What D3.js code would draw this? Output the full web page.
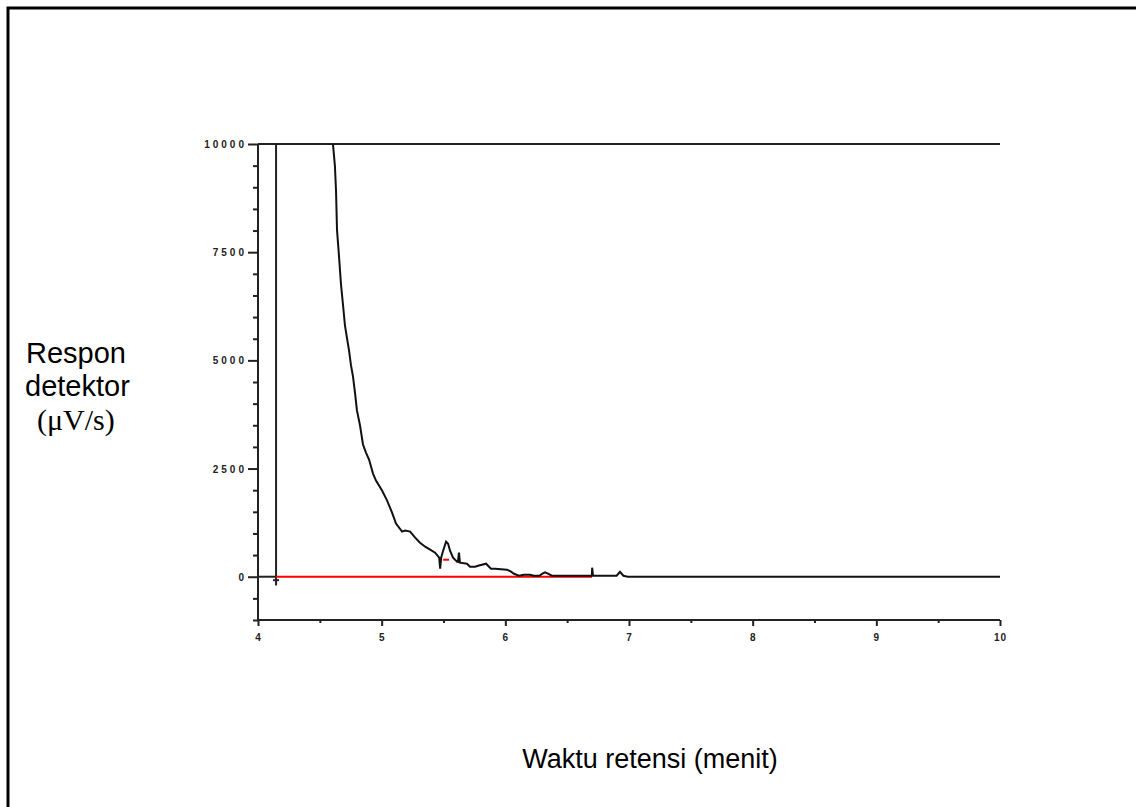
<!DOCTYPE html>
<html><head><meta charset="utf-8">
<script src="https://cdn.jsdelivr.net/npm/d3@7"></script>
<style>body{margin:0;background:#fff}svg{display:block}</style>
</head><body>
<svg id="c" width="1136" height="807"></svg>
<script>
// Data
const time = [4.606,4.614,4.622,4.631,4.639,4.655,4.671,4.687,4.703,4.720,4.736,4.752,4.768,4.784,4.800,4.825,4.849,4.873,4.898,4.930,4.954,5.003,5.044,5.084,5.116,5.165,5.190,5.230,5.271,5.310,5.352,5.392,5.432,5.465,5.473,5.481,5.497,5.521,5.537,5.553,5.577,5.601,5.617,5.625,5.633,5.690,5.714,5.755,5.779,5.844,5.884,5.917,6.013,6.046,6.070,6.110,6.150,6.200,6.230,6.275,6.300,6.321,6.345,6.377,6.700,6.702,6.709,6.900,6.927,6.955,6.990,10.0];
const response = [10000,9750,9490,8912,8009,7407,6759,6296,5810,5509,5231,4884,4630,4259,3843,3495,3056,2870,2708,2384,2222,1991,1759,1481,1227,1042,1065,1042,903,787,694,625,555,440,185,440,602,810,764,602,440,370,347,555,324,301,231,231,255,301,185,185,162,116,69,23,46,46,23,23,70,100,70,23,23,208,23,23,115,23,0,0];
const baselineRed = [[4.146,0],[6.701,0]];
const peakBase1 = [[5.497,393],[5.545,393]];
const peakBase2 = [[5.601,347],[5.633,347]];
const injectionTime = 4.146;
const injectionRange = [10000,-200];
const xTicksMajor = [4,5,6,7,8,9,10];
const yTicksMajor = [0,2500,5000,7500,10000];

const svg = d3.select("#c");
const x = d3.scaleLinear().domain([4,10]).range([258,1000]);
const y = d3.scaleLinear().domain([-1000,10000]).range([620,144]);

// outer frame
svg.append("path").attr("d","M8,807 L8,8 L1136,8").attr("fill","none").attr("stroke","#000").attr("stroke-width",3);

const axColor = "#222";
// y axis
const yMinor = d3.range(-1000,10001,500);
const yAx = svg.append("g").attr("transform","translate(258,0)")
  .call(d3.axisLeft(y).tickValues(yMinor).tickSize(5).tickFormat(""));
yAx.selectAll(".tick line").filter(d=>yTicksMajor.includes(d)).attr("x2",-10);
yAx.selectAll("line,path").attr("stroke",axColor).attr("stroke-width",2);
yAx.select(".domain").attr("d","M0,620V144");
yAx.selectAll(".tick").filter(d=>yTicksMajor.includes(d)).append("text")
  .attr("x",-11).attr("dy","0.36em").attr("text-anchor","end")
  .attr("fill","#222").style("font","bold 10px 'Liberation Sans',Arial").attr("letter-spacing","3px")
  .text(d=>d);

// x axis
const xMinor = d3.range(4,10.01,0.5);
const xAx = svg.append("g").attr("transform","translate(0,620)")
  .call(d3.axisBottom(x).tickValues(xMinor).tickSize(3).tickFormat(""));
xAx.selectAll(".tick line").filter(d=>xTicksMajor.includes(d)).attr("y2",6);
xAx.selectAll("line,path").attr("stroke",axColor).attr("stroke-width",2);
xAx.select(".domain").attr("d","M258,0H1000");
xAx.selectAll(".tick").filter(d=>xTicksMajor.includes(d)).append("text")
  .attr("y",21).attr("text-anchor","middle")
  .attr("fill","#222").style("font","bold 10px 'Liberation Sans',Arial").attr("letter-spacing","1px")
  .text(d=>d);

// top line at 10000
svg.append("line").attr("x1",x(4)).attr("x2",x(10)).attr("y1",y(10000)).attr("y2",y(10000))
  .attr("stroke",axColor).attr("stroke-width",2);

// injection marker
svg.append("line").attr("x1",x(injectionTime)).attr("x2",x(injectionTime))
  .attr("y1",y(injectionRange[0])).attr("y2",y(injectionRange[1])).attr("stroke",axColor).attr("stroke-width",2);
svg.append("line").attr("x1",x(injectionTime)-3).attr("x2",x(injectionTime)+3)
  .attr("y1",y(-80)).attr("y2",y(-80)).attr("stroke",axColor).attr("stroke-width",2);
// pre-injection baseline
svg.append("line").attr("x1",x(4)).attr("x2",x(injectionTime)).attr("y1",y(0)).attr("y2",y(0))
  .attr("stroke",axColor).attr("stroke-width",2);

const line = d3.line().x(d=>x(d[0])).y(d=>y(d[1]));
// red baselines
[baselineRed,peakBase1,peakBase2].forEach(b=>{
  svg.append("path").attr("d",line(b)).attr("fill","none").attr("stroke","#ff0000").attr("stroke-width",2);
});
// signal trace
const trace = time.map((t,i)=>[t,response[i]]);
svg.append("path").attr("d",line(trace)).attr("fill","none").attr("stroke","#111").attr("stroke-width",2);

// axis titles
const yt = svg.append("g").attr("fill","#000");
yt.append("text").attr("x",26).attr("y",363).style("font","29px 'Liberation Sans',Arial").text("Respon");
yt.append("text").attr("x",25).attr("y",396).style("font","29px 'Liberation Sans',Arial").text("detektor");
yt.append("text").attr("x",37).attr("y",430).style("font","30px 'Liberation Serif','Times New Roman',serif").text("(μV/s)");
svg.append("text").attr("x",650).attr("y",768).attr("text-anchor","middle")
  .style("font","27px 'Liberation Sans',Arial").text("Waktu retensi (menit)");
</script>
</body></html>
